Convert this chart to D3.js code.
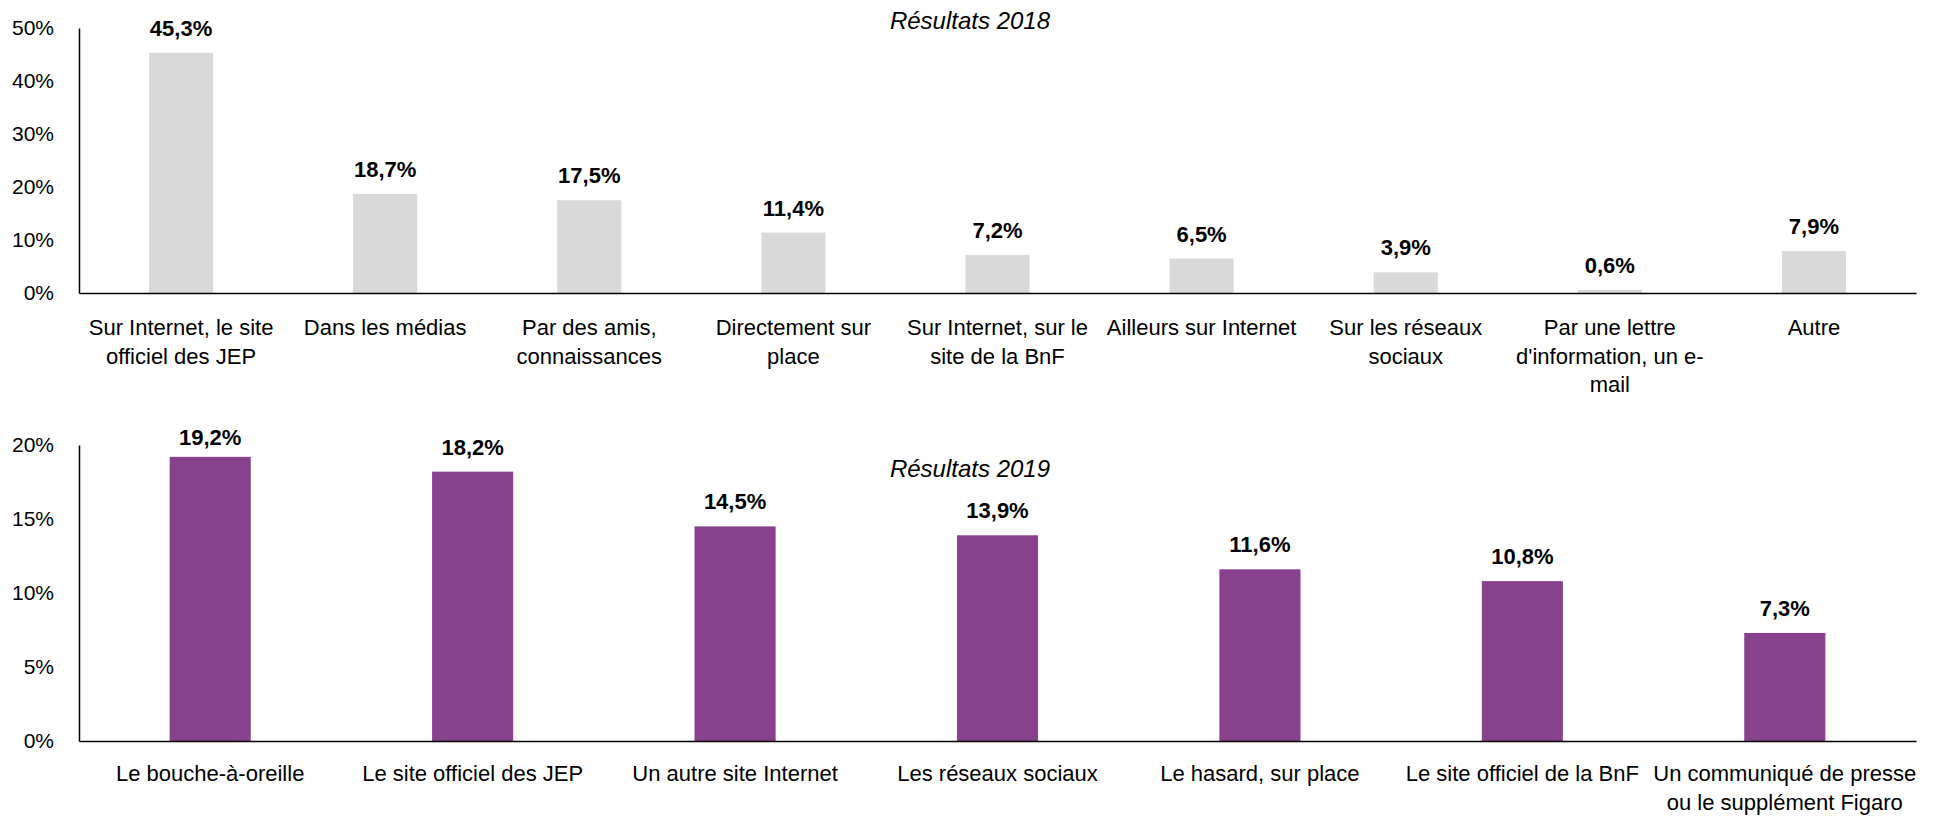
<!DOCTYPE html>
<html><head><meta charset="utf-8">
<script src="https://cdn.jsdelivr.net/npm/d3@7"></script>
<style>
html,body{margin:0;padding:0;background:#fff;}
svg{display:block;font-family:"Liberation Sans",Arial,sans-serif;}
</style></head>
<body>
<svg id="c" width="1933" height="817"></svg>
<script>
const categories2018 = ["Sur Internet, le site\nofficiel des JEP","Dans les médias","Par des amis,\nconnaissances","Directement sur\nplace","Sur Internet, sur le\nsite de la BnF","Ailleurs sur Internet","Sur les réseaux\nsociaux","Par une lettre\nd'information, un e-\nmail","Autre"];
const values2018 = [45.3,18.7,17.5,11.4,7.2,6.5,3.9,0.6,7.9];
const ticks2018 = [0,10,20,30,40,50];
const title2018 = "Résultats 2018";

const categories2019 = ["Le bouche-à-oreille","Le site officiel des JEP","Un autre site Internet","Les réseaux sociaux","Le hasard, sur place","Le site officiel de la BnF","Un communiqué de presse\nou le supplément Figaro"];
const values2019 = [19.2,18.2,14.5,13.9,11.6,10.8,7.3];
const ticks2019 = [0,5,10,15,20];
const title2019 = "Résultats 2019";

const svg = d3.select("#c");
const fmt = v => d3.format(".1f")(v).replace(".", ",") + "%";

function panel(cfg){
  const g = svg.append("g");
  const x = d3.scaleBand().domain(cfg.cats).range([79,1916]);
  const y = d3.scaleLinear().domain([0,cfg.max]).range([cfg.y0,cfg.y1]);
  const bw = x.bandwidth()*cfg.barFrac;
  g.append("text").attr("x",970).attr("y",cfg.titleY)
    .attr("text-anchor","middle").attr("font-style","italic")
    .attr("font-size",24).attr("fill","#000").text(cfg.title);
  g.selectAll("rect.bar").data(cfg.vals).join("rect")
    .attr("x",(d,i)=>x(cfg.cats[i])+x.bandwidth()/2-bw/2)
    .attr("y",d=>y(d)).attr("width",bw).attr("height",d=>y(0)-y(d))
    .attr("fill",cfg.color);
  g.selectAll("text.val").data(cfg.vals).join("text")
    .attr("x",(d,i)=>x(cfg.cats[i])+x.bandwidth()/2)
    .attr("y",d=>Math.max(y(d)-17, cfg.labelMin))
    .attr("text-anchor","middle").attr("font-weight","bold")
    .attr("font-size",22).attr("fill","#000").text(d=>fmt(d));
  const ya = d3.axisLeft(y).tickValues(cfg.ticks).tickSize(0).tickPadding(25).tickFormat(d=>d+"%");
  const yg = g.append("g").attr("transform","translate(79,0)").call(ya);
  yg.attr("font-family",null).attr("font-size",null);
  yg.select(".domain").attr("stroke","#000").attr("stroke-width",1.5);
  yg.selectAll("text").attr("font-size",21).attr("fill","#000");
  const xa = d3.axisBottom(x).tickSize(0).tickFormat("");
  const xg = g.append("g").attr("transform",`translate(0,${y(0)})`).call(xa);
  xg.attr("font-family",null);
  xg.select(".domain").attr("stroke","#000").attr("stroke-width",1.5);
  cfg.cats.forEach(c=>{
    const cx = x(c)+x.bandwidth()/2;
    const t = g.append("text").attr("text-anchor","middle").attr("font-size",22).attr("fill","#000")
      .attr("x",cx).attr("y",y(0)+cfg.catDy);
    c.split("\n").forEach((ln,j)=>{
      t.append("tspan").attr("x",cx).attr("dy",j===0?0:28.5).text(ln);
    });
  });
}

panel({cats:categories2018, vals:values2018, ticks:ticks2018, max:50, y0:293, y1:28,
  barFrac:0.314, color:"#D9D9D9", title:title2018, titleY:29, labelMin:0, catDy:42});
panel({cats:categories2019, vals:values2019, ticks:ticks2019, max:20, y0:741, y1:445,
  barFrac:0.309, color:"#88418C", title:title2019, titleY:477, labelMin:445, catDy:40});
</script>
</body></html>
